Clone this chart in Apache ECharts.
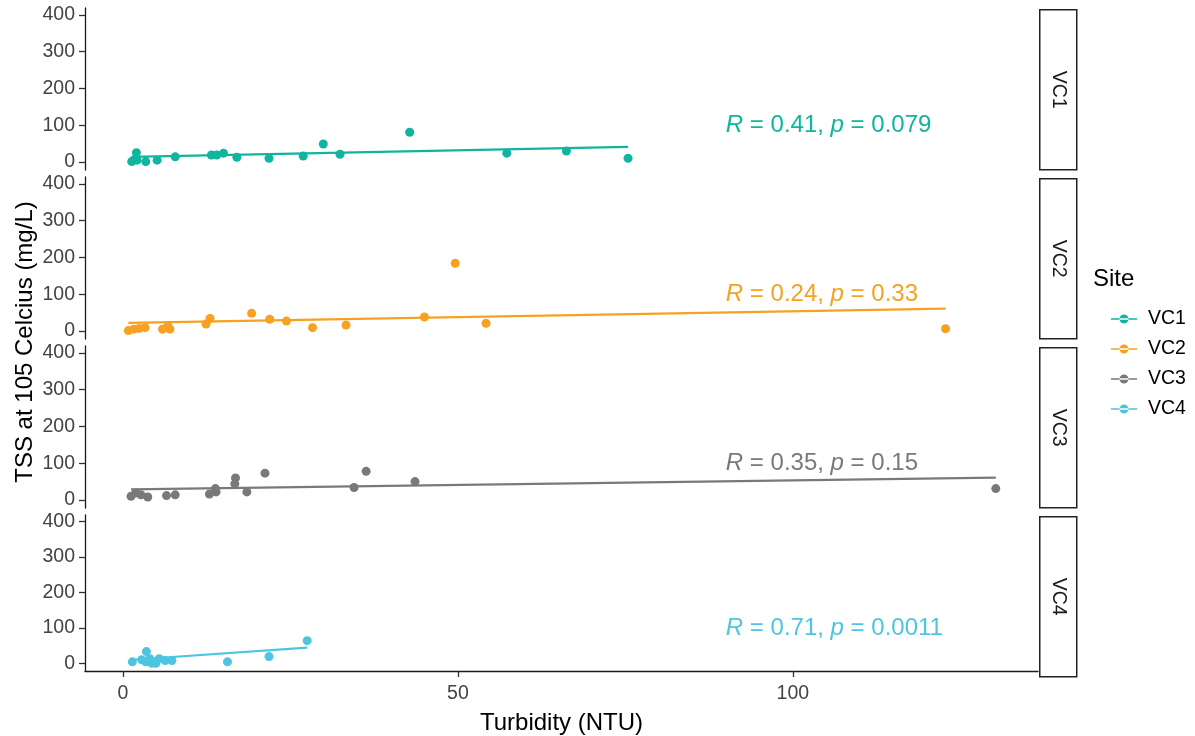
<!DOCTYPE html>
<html>
<head>
<meta charset="utf-8">
<script src="https://cdn.jsdelivr.net/npm/echarts@6/dist/echarts.min.js"></script>
<style>
html,body{margin:0;padding:0;background:#fff;}
#c{width:1195px;height:736px;}
</style>
</head>
<body>
<div id="c"></div>
<script>
// ---------- data ----------
const sites = ['VC1', 'VC2', 'VC3', 'VC4'];

const vc1Turbidity = [1.3, 1.6, 2.0, 2.1, 3.4, 5.1, 7.8, 13.2, 14.0, 15.0, 17.0, 21.8, 26.9, 29.9, 32.4, 42.8, 57.3, 66.2, 75.4];
const vc1TSS       = [1, 5, 25, 5, 1, 5, 14, 19, 19, 24, 13, 10, 16, 49, 21, 81, 24, 30, 10];

const vc2Turbidity = [0.8, 1.6, 2.4, 3.3, 5.9, 6.7, 7.0, 12.4, 13.0, 19.2, 21.9, 24.4, 28.3, 33.3, 45.0, 49.6, 54.2, 122.8];
const vc2TSS       = [1, 5, 7, 9, 5, 14, 5, 19, 34, 48, 32, 27, 9, 16, 38, 184, 21, 6];

const vc3Turbidity = [1.2, 1.9, 2.7, 3.7, 6.5, 7.8, 12.9, 13.8, 13.9, 16.7, 16.8, 18.5, 21.2, 34.5, 36.3, 43.6, 130.3];
const vc3TSS       = [10, 19, 14, 8, 12, 14, 16, 31, 22, 44, 60, 22, 73, 34, 78, 50, 31];

const vc4Turbidity = [1.4, 2.8, 3.4, 3.5, 4.0, 4.3, 4.9, 5.4, 6.3, 7.3, 15.6, 21.8, 27.5];
const vc4TSS       = [4, 10, 4, 33, 13, 0, 0, 13, 8, 8, 4, 19, 64];

// fitted (lm) line end points: [x0, y0, x1, y1]
const vc1Fit = [1.3, 14, 75.4, 41];
const vc2Fit = [0.8, 22, 122.8, 61];
const vc3Fit = [1.2, 29, 130.3, 61];
const vc4Fit = [1.4, 10, 27.5, 44];

// correlation annotations
const corrR = ['0.41', '0.24', '0.35', '0.71'];
const corrP = ['0.079', '0.33', '0.15', '0.0011'];
const labelX = 90;
const labelY = 100;

const yTicks = [0, 100, 200, 300, 400];
const xTicks = [0, 50, 100];

// ---------- styling / layout ----------
const palette = ['#0FB59E', '#F6A11F', '#797979', '#4EC5E0'];
const FONT = 'Liberation Sans, Arial, sans-serif';
const panelTop0 = 8, panelStep = 169, panelH = 162, plotLeft = 85, plotRight = 1038;

const turb = [vc1Turbidity, vc2Turbidity, vc3Turbidity, vc4Turbidity];
const tss = [vc1TSS, vc2TSS, vc3TSS, vc4TSS];
const fits = [vc1Fit, vc2Fit, vc3Fit, vc4Fit];

const grids = [], xAxes = [], yAxes = [], series = [], graphics = [];

sites.forEach((s, i) => {
  const top = panelTop0 + i * panelStep;
  grids.push({ left: plotLeft, width: plotRight - plotLeft, top: top, height: panelH });
  const last = i === sites.length - 1;
  xAxes.push({
    gridIndex: i, type: 'value', min: -5.67, max: 136.6,
    splitLine: { show: false },
    axisLine: { show: last, onZero: false, lineStyle: { color: '#1a1a1a', width: 1.3 } },
    axisTick: { show: last, length: 6, customValues: xTicks, lineStyle: { color: '#333', width: 1.3 } },
    axisLabel: { show: last, customValues: xTicks, color: '#444', fontSize: 19.5, fontFamily: FONT, margin: 13 },
    name: last ? 'Turbidity (NTU)' : '', nameLocation: 'middle', nameGap: 40,
    nameTextStyle: { color: '#000', fontSize: 24, fontFamily: FONT }
  });
  yAxes.push({
    gridIndex: i, type: 'value', min: -21.8, max: 419,
    splitLine: { show: false },
    axisLine: { show: true, onZero: false, lineStyle: { color: '#1a1a1a', width: 1.3 } },
    axisTick: { show: true, length: 6, customValues: yTicks, lineStyle: { color: '#333', width: 1.3 } },
    axisLabel: { customValues: yTicks, color: '#444', fontSize: 19.5, fontFamily: FONT, margin: 10 }
  });

  const pts = turb[i].map((x, k) => [x, tss[i][k]]);
  const f = fits[i];
  series.push({
    name: s, type: 'line', xAxisIndex: i, yAxisIndex: i,
    data: [[f[0], f[1]], [f[2], f[3]]],
    showSymbol: false, symbol: 'none', silent: true,
    lineStyle: { color: palette[i], width: 2.2 }, itemStyle: { color: palette[i] }, z: 2
  });
  series.push({
    name: s, type: 'scatter', xAxisIndex: i, yAxisIndex: i,
    data: pts, symbolSize: 9, itemStyle: { color: palette[i], opacity: 1 }, z: 3
  });
  series.push({
    name: s, type: 'scatter', xAxisIndex: i, yAxisIndex: i,
    data: [[labelX, labelY]], symbolSize: 0, silent: true, z: 4,
    itemStyle: { color: palette[i], opacity: 1 },
    label: {
      show: true, position: 'right', distance: 0, opacity: 1,
      formatter: () => '{i|R}{n| = ' + corrR[i] + ', }{i|p}{n| = ' + corrP[i] + '}',
      rich: {
        i: { fontStyle: 'italic', color: palette[i], fontSize: 24, fontFamily: FONT },
        n: { color: palette[i], fontSize: 24, fontFamily: FONT }
      }
    }
  });

  // facet strip
  graphics.push({
    type: 'group', left: 1039, top: top + 1,
    children: [
      { type: 'rect', shape: { x: 0, y: 0, width: 37, height: panelH - 2 },
        style: { fill: '#fff', stroke: '#222', lineWidth: 1.5 } },
      { type: 'text', x: 18.5, y: (panelH - 2) / 2, rotation: -Math.PI / 2,
        style: { text: s, fill: '#1A1A1A', fontSize: 19.5, fontFamily: FONT, align: 'center', verticalAlign: 'middle' } }
    ]
  });
});

// y axis title
graphics.push({
  type: 'text', x: 25, y: 342, rotation: Math.PI / 2,
  style: { text: 'TSS at 105 Celcius (mg/L)', fill: '#000', fontSize: 24, fontFamily: FONT, align: 'center', verticalAlign: 'middle' }
});
// legend title
graphics.push({
  type: 'text', x: 1093, y: 279,
  style: { text: 'Site', fill: '#000', fontSize: 24, fontFamily: FONT, align: 'left', verticalAlign: 'middle' }
});

const option = {
  animation: false,
  backgroundColor: '#fff',
  grid: grids,
  xAxis: xAxes,
  yAxis: yAxes,
  legend: {
    orient: 'vertical', left: 1106, top: 304,
    itemWidth: 26, itemHeight: 10, itemGap: 10,
    data: sites.map((s, i) => ({
      name: s,
      icon: 'path://M0,4.3L26,4.3L26,5.7L0,5.7Z M8.5,5a4.5,4.5 0 1,0 9,0a4.5,4.5 0 1,0 -9,0Z',
      itemStyle: { color: palette[i] }
    })),
    textStyle: { color: '#000', fontSize: 19.5, fontFamily: FONT, padding: [0, 0, 0, 6] },
    selectedMode: false
  },
  graphic: graphics,
  series: series
};

const chart = echarts.init(document.getElementById('c'), null, { renderer: 'canvas' });
chart.setOption(option);
</script>
</body>
</html>
